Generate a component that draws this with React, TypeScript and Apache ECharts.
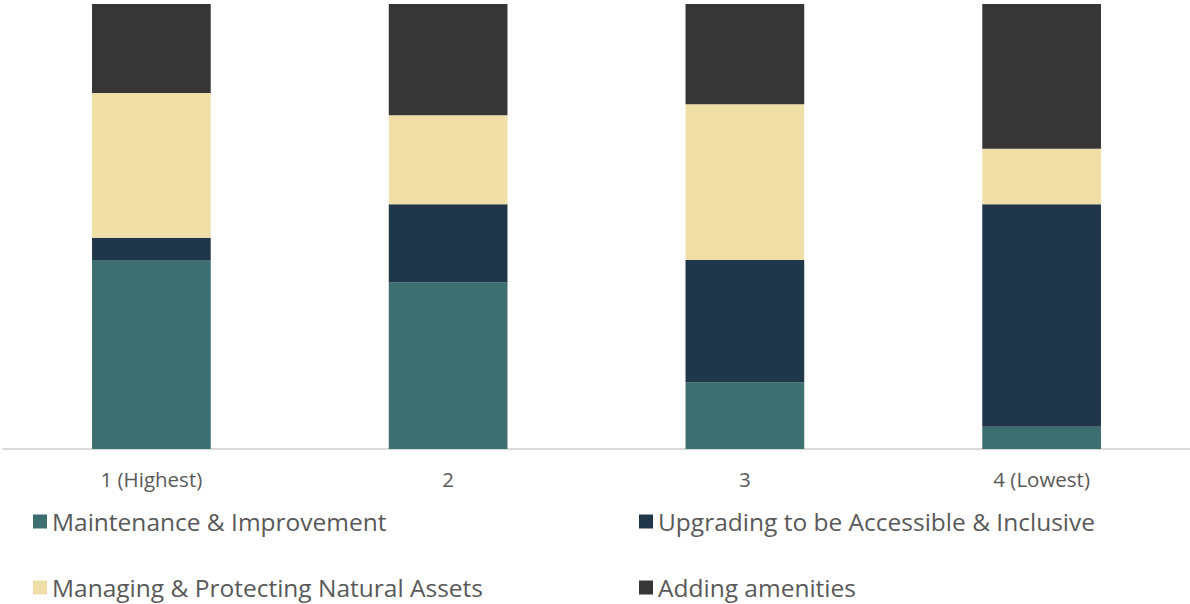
import React, { useEffect, useRef } from "react";
import * as echarts from "echarts";

const categories = ["1 (Highest)", "2", "3", "4 (Lowest)"];
const seriesNames = [
  "Maintenance & Improvement",
  "Upgrading to be Accessible & Inclusive",
  "Managing & Protecting Natural Assets",
  "Adding amenities",
];
const maintenance = [42.5, 37.5, 15, 5];
const upgrading = [5, 17.5, 27.5, 50];
const managing = [32.5, 20, 35, 12.5];
const amenities = [20, 25, 22.5, 32.5];
const colors = ["#3d6e70", "#203649", "#efdfa7", "#363636"];

export default function App() {
  const ref = useRef<HTMLDivElement>(null);
  useEffect(() => {
    if (!ref.current) return;
    const chart = echarts.init(ref.current, null, { renderer: "svg" });
    const values = [maintenance, upgrading, managing, amenities];
    const font = "'Open Sans', 'Noto Sans', sans-serif";
    const legendPos = [
      { left: 33, top: 509 },
      { left: 639, top: 509 },
      { left: 33, top: 575 },
      { left: 639, top: 575 },
    ];
    chart.setOption({
      animation: false,
      grid: { left: 3, top: 4, width: 1190, height: 445 },
      xAxis: {
        type: "category",
        data: categories,
        axisLine: { lineStyle: { color: "#d9d9d9", width: 2 } },
        axisTick: { show: false },
        axisLabel: {
          color: "#595959",
          fontSize: 20.5,
          fontFamily: font,
          margin: 19,
        },
      },
      yAxis: { type: "value", min: 0, max: 100, show: false },
      legend: seriesNames.map((n, i) => ({
        data: [n],
        left: legendPos[i].left,
        top: legendPos[i].top,
        padding: 0,
        icon: "rect",
        itemWidth: 14,
        itemHeight: 14,
        textStyle: { color: "#595959", fontSize: 24.5, fontFamily: font },
      })),
      series: seriesNames.map((n, i) => ({
        name: n,
        type: "bar",
        stack: "total",
        barWidth: "40%",
        data: values[i],
        itemStyle: { color: colors[i] },
      })),
    });
    return () => chart.dispose();
  }, []);
  return (
    <div
      ref={ref}
      style={{ position: "absolute", left: 0, top: 0, width: 1190, height: 604 }}
    />
  );
}
